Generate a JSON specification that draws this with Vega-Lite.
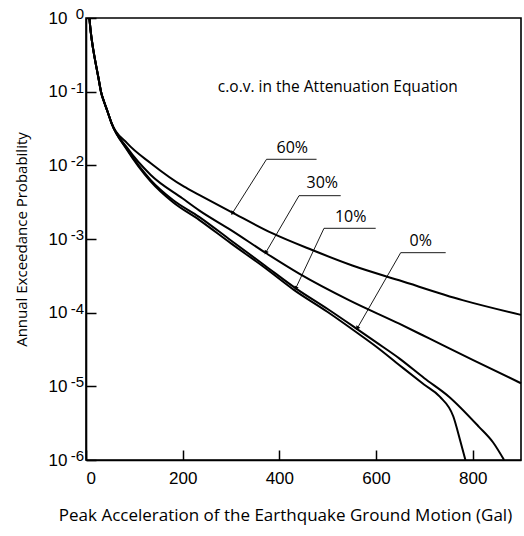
{
  "$schema": "https://vega.github.io/schema/vega-lite/v6.json",
  "width": 435,
  "height": 442,
  "autosize": {"type": "none"},
  "padding": {"left": 86, "top": 18, "right": 3, "bottom": 76},
  "background": "white",
  "config": {
    "view": {"stroke": "black", "strokeWidth": 1.6},
    "font": "Open Sans",
    "axis": {
      "grid": false,
      "domainColor": "black",
      "domainWidth": 1.6,
      "tickColor": "black",
      "tickWidth": 1.5,
      "tickSize": -10,
      "labelColor": "black",
      "labelFont": "Liberation Sans",
      "labelFontSize": 17,
      "titleColor": "black",
      "titleFont": "Open Sans",
      "titleFontWeight": "normal",
      "titleFontSize": 15
    }
  },
  "datasets": {
    "curves": [
      {"s": "60%", "g": 7, "p": 1}, {"s": "60%", "g": 10, "p": 0.631}, {"s": "60%", "g": 15, "p": 0.372}, {"s": "60%", "g": 21, "p": 0.224}, {"s": "60%", "g": 26, "p": 0.151}, {"s": "60%", "g": 31, "p": 0.1}, {"s": "60%", "g": 37, "p": 0.0741}, {"s": "60%", "g": 44, "p": 0.055}, {"s": "60%", "g": 53, "p": 0.0372},
      {"s": "60%", "g": 85, "p": 0.02}, {"s": "60%", "g": 134, "p": 0.0107}, {"s": "60%", "g": 203, "p": 0.00513}, {"s": "60%", "g": 234, "p": 0.00398}, {"s": "60%", "g": 300, "p": 0.00234}, {"s": "60%", "g": 385, "p": 0.0012}, {"s": "60%", "g": 468, "p": 0.000708}, {"s": "60%", "g": 551, "p": 0.000437}, {"s": "60%", "g": 648, "p": 0.000275}, {"s": "60%", "g": 779, "p": 0.000148}, {"s": "60%", "g": 900, "p": 0.0000933},
      {"s": "30%", "g": 7, "p": 1}, {"s": "30%", "g": 10, "p": 0.631}, {"s": "30%", "g": 15, "p": 0.372}, {"s": "30%", "g": 21, "p": 0.224}, {"s": "30%", "g": 26, "p": 0.151}, {"s": "30%", "g": 31, "p": 0.1}, {"s": "30%", "g": 37, "p": 0.0741}, {"s": "30%", "g": 44, "p": 0.055}, {"s": "30%", "g": 53, "p": 0.0372},
      {"s": "30%", "g": 85, "p": 0.0174}, {"s": "30%", "g": 134, "p": 0.00741}, {"s": "30%", "g": 200, "p": 0.00355}, {"s": "30%", "g": 234, "p": 0.00245}, {"s": "30%", "g": 300, "p": 0.00132}, {"s": "30%", "g": 372, "p": 0.000646}, {"s": "30%", "g": 441, "p": 0.000339}, {"s": "30%", "g": 544, "p": 0.000148}, {"s": "30%", "g": 648, "p": 0.0000708}, {"s": "30%", "g": 710, "p": 0.0000447}, {"s": "30%", "g": 800, "p": 0.0000229}, {"s": "30%", "g": 900, "p": 0.000011},
      {"s": "10%", "g": 7, "p": 1}, {"s": "10%", "g": 10, "p": 0.631}, {"s": "10%", "g": 15, "p": 0.372}, {"s": "10%", "g": 21, "p": 0.224}, {"s": "10%", "g": 26, "p": 0.151}, {"s": "10%", "g": 31, "p": 0.1}, {"s": "10%", "g": 37, "p": 0.0741}, {"s": "10%", "g": 44, "p": 0.055}, {"s": "10%", "g": 53, "p": 0.0372},
      {"s": "10%", "g": 85, "p": 0.0166}, {"s": "10%", "g": 134, "p": 0.00631}, {"s": "10%", "g": 180, "p": 0.00339}, {"s": "10%", "g": 234, "p": 0.002}, {"s": "10%", "g": 300, "p": 0.000955}, {"s": "10%", "g": 370, "p": 0.000437}, {"s": "10%", "g": 434, "p": 0.000214}, {"s": "10%", "g": 500, "p": 0.000112}, {"s": "10%", "g": 558, "p": 0.0000617}, {"s": "10%", "g": 600, "p": 0.0000398}, {"s": "10%", "g": 648, "p": 0.000024}, {"s": "10%", "g": 700, "p": 0.0000129}, {"s": "10%", "g": 751, "p": 0.00000724}, {"s": "10%", "g": 813, "p": 0.00000282}, {"s": "10%", "g": 842, "p": 0.00000174}, {"s": "10%", "g": 865, "p": 0.000001},
      {"s": "0%", "g": 7, "p": 1}, {"s": "0%", "g": 10, "p": 0.631}, {"s": "0%", "g": 15, "p": 0.372}, {"s": "0%", "g": 21, "p": 0.224}, {"s": "0%", "g": 26, "p": 0.151}, {"s": "0%", "g": 31, "p": 0.1}, {"s": "0%", "g": 37, "p": 0.0741}, {"s": "0%", "g": 44, "p": 0.055}, {"s": "0%", "g": 53, "p": 0.0372},
      {"s": "0%", "g": 85, "p": 0.0162}, {"s": "0%", "g": 134, "p": 0.00603}, {"s": "0%", "g": 180, "p": 0.00316}, {"s": "0%", "g": 234, "p": 0.00182}, {"s": "0%", "g": 300, "p": 0.000871}, {"s": "0%", "g": 370, "p": 0.000407}, {"s": "0%", "g": 430, "p": 0.000204}, {"s": "0%", "g": 500, "p": 0.000102}, {"s": "0%", "g": 558, "p": 0.000055}, {"s": "0%", "g": 600, "p": 0.0000347}, {"s": "0%", "g": 648, "p": 0.0000195}, {"s": "0%", "g": 700, "p": 0.0000105}, {"s": "0%", "g": 732, "p": 0.00000724}, {"s": "0%", "g": 760, "p": 0.00000389}, {"s": "0%", "g": 774, "p": 0.00000186}, {"s": "0%", "g": 785, "p": 0.000001}
    ],
    "leaders": [
      {"g": 373.5, "p": 0.01208, "g2": 477, "p2": 0.01208},
      {"g": 373.5, "p": 0.01208, "g2": 302.7, "p2": 0.002234},
      {"g": 440.7, "p": 0.003873, "g2": 527, "p2": 0.003873},
      {"g": 440.7, "p": 0.003873, "g2": 371.8, "p2": 0.000652},
      {"g": 492.4, "p": 0.001397, "g2": 599.4, "p2": 0.001397},
      {"g": 492.4, "p": 0.001397, "g2": 433.9, "p2": 0.000214},
      {"g": 651.1, "p": 0.000652, "g2": 744.2, "p2": 0.000652},
      {"g": 651.1, "p": 0.000652, "g2": 561.3, "p2": 0.0000614}
    ],
    "tips": [
      {"g": 302.7, "p": 0.002234},
      {"g": 371.8, "p": 0.000652},
      {"g": 433.9, "p": 0.000214},
      {"g": 561.3, "p": 0.0000614}
    ],
    "labels": [
      {"t": "60%", "g": 426.9, "p": 0.01703},
      {"t": "30%", "g": 488.9, "p": 0.0057},
      {"t": "10%", "g": 547.7, "p": 0.00197},
      {"t": "0%", "g": 692.5, "p": 0.00094}
    ],
    "note": [
      {"t": "c.o.v. in the Attenuation Equation", "g": 521, "p": 0.1156}
    ],
    "exps": [
      {"e": "0", "g": 0, "p": 1},
      {"e": "-1", "g": 0, "p": 0.1},
      {"e": "-2", "g": 0, "p": 0.01},
      {"e": "-3", "g": 0, "p": 0.001},
      {"e": "-4", "g": 0, "p": 0.0001},
      {"e": "-5", "g": 0, "p": 0.00001},
      {"e": "-6", "g": 0, "p": 0.000001}
    ]
  },
  "layer": [
    {
      "data": {"name": "curves"},
      "mark": {"type": "line", "interpolate": "monotone", "color": "black", "strokeWidth": 2},
      "encoding": {
        "x": {
          "field": "g", "type": "quantitative",
          "scale": {"domain": [0, 900], "nice": false, "zero": false},
          "axis": {"values": [0, 200, 400, 600, 800], "format": "d", "labelPadding": 20, "titlePadding": 21, "titleFontSize": 17, "titleX": 199},
          "title": "Peak Acceleration of the Earthquake Ground Motion (Gal)"
        },
        "y": {
          "field": "p", "type": "quantitative",
          "scale": {"type": "log", "domain": [0.000001, 1], "nice": false},
          "axis": {"values": [1, 0.1, 0.01, 0.001, 0.0001, 0.00001, 0.000001], "labelExpr": "'10'", "labelPadding": 29, "titlePadding": 19},
          "title": "Annual Exceedance Probability"
        },
        "detail": {"field": "s", "type": "nominal"}
      }
    },
    {
      "data": {"name": "leaders"},
      "mark": {"type": "rule", "color": "black", "strokeWidth": 0.9},
      "encoding": {
        "x": {"field": "g", "type": "quantitative", "title": "Peak Acceleration of the Earthquake Ground Motion (Gal)"},
        "x2": {"field": "g2"},
        "y": {"field": "p", "type": "quantitative", "title": "Annual Exceedance Probability"},
        "y2": {"field": "p2"}
      }
    },
    {
      "data": {"name": "tips"},
      "mark": {"type": "point", "shape": "triangle-down", "angle": 30, "size": 22, "filled": true, "color": "black", "opacity": 1},
      "encoding": {
        "x": {"field": "g", "type": "quantitative", "title": "Peak Acceleration of the Earthquake Ground Motion (Gal)"},
        "y": {"field": "p", "type": "quantitative", "title": "Annual Exceedance Probability"}
      }
    },
    {
      "data": {"name": "labels"},
      "mark": {"type": "text", "font": "Open Sans", "fontSize": 16, "align": "center", "baseline": "middle", "color": "black"},
      "encoding": {
        "x": {"field": "g", "type": "quantitative", "title": "Peak Acceleration of the Earthquake Ground Motion (Gal)"},
        "y": {"field": "p", "type": "quantitative", "title": "Annual Exceedance Probability"},
        "text": {"field": "t"}
      }
    },
    {
      "data": {"name": "note"},
      "mark": {"type": "text", "font": "Open Sans", "fontSize": 15.5, "align": "center", "baseline": "middle", "color": "black"},
      "encoding": {
        "x": {"field": "g", "type": "quantitative", "title": "Peak Acceleration of the Earthquake Ground Motion (Gal)"},
        "y": {"field": "p", "type": "quantitative", "title": "Annual Exceedance Probability"},
        "text": {"field": "t"}
      }
    },
    {
      "data": {"name": "exps"},
      "mark": {"type": "text", "font": "Liberation Sans", "fontSize": 15, "align": "right", "baseline": "alphabetic", "dx": -2, "dy": 1, "color": "black"},
      "encoding": {
        "x": {"field": "g", "type": "quantitative", "title": "Peak Acceleration of the Earthquake Ground Motion (Gal)"},
        "y": {"field": "p", "type": "quantitative", "title": "Annual Exceedance Probability"},
        "text": {"field": "e"}
      }
    }
  ]
}
